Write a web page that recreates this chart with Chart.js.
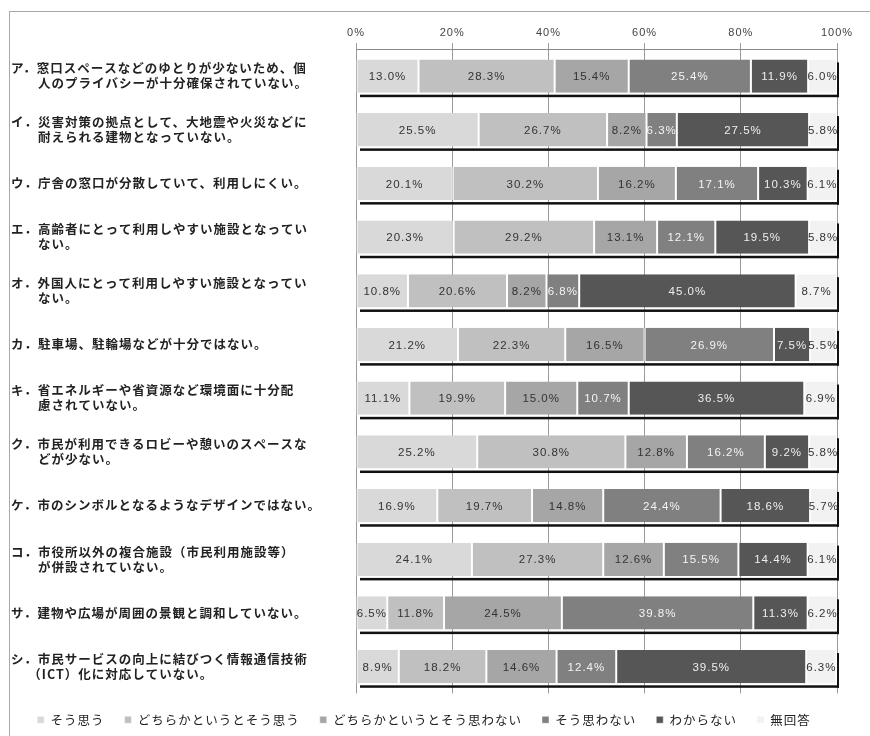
<!DOCTYPE html>
<html lang="ja">
<head>
<meta charset="utf-8">
<title>庁舎の問題点</title>
<script src="https://cdn.jsdelivr.net/npm/chart.js@4.4.1/dist/chart.umd.min.js"></script>
<style>
  html, body { margin: 0; padding: 0; background: #fff; }
  canvas { display: block; }
</style>
</head>
<body>
<canvas id="chosaChart" width="870" height="736"></canvas>
<script>
// 設問項目
const categories = [
  ['ア．窓口スペースなどのゆとりが少ないため、個', '　　人のプライバシーが十分確保されていない。'],
  ['イ．災害対策の拠点として、大地震や火災などに', '　　耐えられる建物となっていない。'],
  'ウ．庁舎の窓口が分散していて、利用しにくい。',
  ['エ．高齢者にとって利用しやすい施設となってい', '　　ない。'],
  ['オ．外国人にとって利用しやすい施設となってい', '　　ない。'],
  'カ．駐車場、駐輪場などが十分ではない。',
  ['キ．省エネルギーや省資源など環境面に十分配', '　　慮されていない。'],
  ['ク．市民が利用できるロビーや憩いのスペースな', '　　どが少ない。'],
  'ケ．市のシンボルとなるようなデザインではない。',
  ['コ．市役所以外の複合施設（市民利用施設等）', '　　が併設されていない。'],
  'サ．建物や広場が周囲の景観と調和していない。',
  ['シ．市民サービスの向上に結びつく情報通信技術', '　 （ICT）化に対応していない。']
];

const seriesNames = ['そう思う', 'どちらかというとそう思う', 'どちらかというとそう思わない', 'そう思わない', 'わからない', '無回答'];

// 回答割合（％）
const soOmou     = [13.0, 25.5, 20.1, 20.3, 10.8, 21.2, 11.1, 25.2, 16.9, 24.1, 6.5, 8.9];
const dochiraSo  = [28.3, 26.7, 30.2, 29.2, 20.6, 22.3, 19.9, 30.8, 19.7, 27.3, 11.8, 18.2];
const dochiraNot = [15.4, 8.2, 16.2, 13.1, 8.2, 16.5, 15.0, 12.8, 14.8, 12.6, 24.5, 14.6];
const soNot      = [25.4, 6.3, 17.1, 12.1, 6.8, 26.9, 10.7, 16.2, 24.4, 15.5, 39.8, 12.4];
const wakaranai  = [11.9, 27.5, 10.3, 19.5, 45.0, 7.5, 36.5, 9.2, 18.6, 14.4, 11.3, 39.5];
const mukaitou   = [6.0, 5.8, 6.1, 5.8, 8.7, 5.5, 6.9, 5.8, 5.7, 6.1, 6.2, 6.3];

const xTicks = [0, 20, 40, 60, 80, 100];

const fills = ['#d9d9d9', '#c0c0c0', '#a6a6a6', '#808080', '#565656', '#f2f2f2'];
const labelColors = ['#333333', '#333333', '#333333', '#f4f4f4', '#eeeeee', '#333333'];

const seriesData = [soOmou, dochiraSo, dochiraNot, soNot, wakaranai, mukaitou];

const datasets = seriesData.map((values, i) => ({
  label: seriesNames[i],
  data: values,
  backgroundColor: fills[i],
  borderColor: '#ffffff',
  borderWidth: { left: 1, right: 1, top: 0, bottom: 0 },
  borderSkipped: false,
  categoryPercentage: 1.0,
  barPercentage: 0.62
}));

// 文字間隔（元画像の字間に合わせる）
const spacingPlugin = {
  id: 'spacing',
  beforeUpdate(chart) { chart.ctx.letterSpacing = '1px'; }
};

// 外枠
const framePlugin = {
  id: 'frame',
  beforeDraw(chart) {
    const ctx = chart.ctx;
    ctx.save();
    ctx.strokeStyle = '#a8a8a8';
    ctx.lineWidth = 1;
    ctx.strokeRect(9.5, 11.5, 900, 800);
    ctx.restore();
  }
};

// 棒の影（下と右の黒線）
const shadowPlugin = {
  id: 'barShadow',
  beforeDatasetsDraw(chart) {
    const ctx = chart.ctx;
    const x = chart.scales.x;
    const x0 = x.getPixelForValue(0);
    const x1 = x.getPixelForValue(100);
    const meta = chart.getDatasetMeta(0);
    ctx.save();
    ctx.fillStyle = '#111111';
    meta.data.forEach(bar => {
      const top = bar.y - bar.height / 2;
      const bottom = bar.y + bar.height / 2;
      ctx.fillRect(x0 + 4, bottom + 2, x1 - x0 - 2, 2.5);
      ctx.fillRect(x1, top + 3, 2, bottom - top + 1.5);
    });
    ctx.restore();
  }
};

// 値ラベル
const valueLabelPlugin = {
  id: 'valueLabels',
  afterDatasetsDraw(chart) {
    const ctx = chart.ctx;
    ctx.save();
    ctx.font = '11.5px "Liberation Sans", Arial, sans-serif';
    ctx.textAlign = 'center';
    ctx.textBaseline = 'middle';
    chart.data.datasets.forEach((ds, di) => {
      const meta = chart.getDatasetMeta(di);
      meta.data.forEach((bar, i) => {
        const p = bar.getCenterPoint();
        ctx.fillStyle = labelColors[di];
        ctx.fillText(ds.data[i].toFixed(1) + '%', p.x, p.y + 1);
      });
    });
    ctx.restore();
  }
};

const ctx = document.getElementById('chosaChart').getContext('2d');
new Chart(ctx, {
  type: 'bar',
  data: {
    labels: categories,
    datasets: datasets
  },
  options: {
    indexAxis: 'y',
    responsive: false,
    animation: false,
    layout: {
      padding: { left: 11, right: 33, top: 22, bottom: 0 }
    },
    plugins: {
      tooltip: { enabled: false },
      legend: {
        position: 'bottom',
        labels: {
          boxWidth: 7,
          boxHeight: 7,
          padding: 20,
          color: '#222',
          font: { family: '"Noto Sans CJK JP", sans-serif', size: 12.5 }
        }
      }
    },
    scales: {
      x: {
        position: 'top',
        stacked: true,
        min: 0,
        max: 100,
        afterBuildTicks(scale) {
          scale.ticks = xTicks.map(v => ({ value: v }));
        },
        ticks: {
          padding: 4,
          color: '#444',
          font: { family: '"Liberation Sans", Arial, sans-serif', size: 11 },
          callback: v => v + '%'
        },
        grid: {
          color: '#9a9a9a',
          lineWidth: 1,
          tickLength: 6,
          drawTicks: true
        },
        border: { display: true, color: '#8a8a8a' }
      },
      y: {
        stacked: true,
        afterFit(scale) { scale.width = 345; },
        grid: { display: false },
        border: { display: false },
        ticks: {
          autoSkip: false,
          crossAlign: 'far',
          color: '#222',
          font: { family: '"Noto Sans CJK JP", sans-serif', size: 12.5, weight: 'bold', lineHeight: 1.2 }
        }
      }
    }
  },
  plugins: [spacingPlugin, framePlugin, shadowPlugin, valueLabelPlugin]
});
</script>
</body>
</html>
